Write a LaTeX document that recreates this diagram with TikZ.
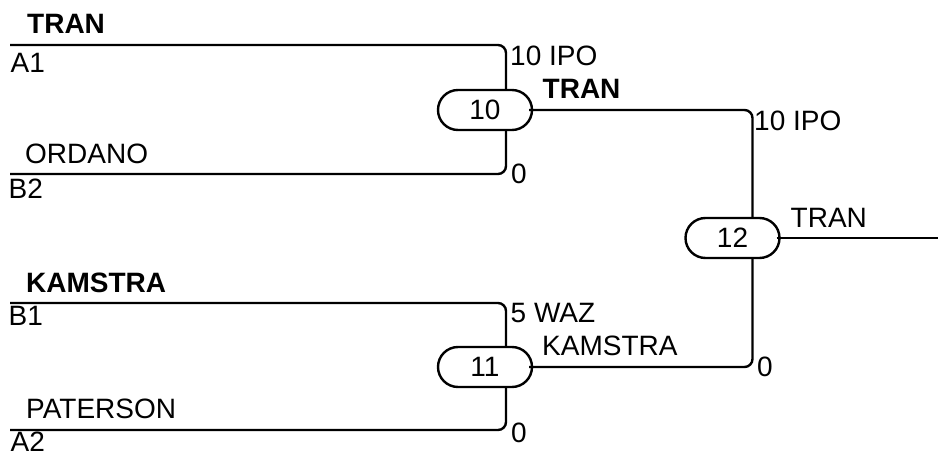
\documentclass[tikz,border=0pt]{standalone}
\usepackage{fontspec}
\setmainfont{Liberation Sans}
\begin{document}
\begin{tikzpicture}[x=1pt,y=-1pt,
		every node/.style={font=\fontsize{28}{32}\selectfont,inner sep=0pt},
		lbl/.style={anchor=base west},
		match/.style={draw,line width=2.4pt,rounded corners=20pt,minimum width=94pt,minimum height=40pt},
		conn/.style={line width=2.4pt,rounded corners=8pt}]
		\useasboundingbox (0,0) rectangle (938,455);
		\node[match] (m10) at (485,110) {10};
		\node[match] (m11) at (485,367) {11};
		\node[match] (m12) at (732.5,238) {12};
		\coordinate (a1) at (10,45);
		\coordinate (b2) at (10,174);
		\coordinate (b1) at (10,303);
		\coordinate (a2) at (10,430);
		\coordinate (win) at (938,238);
		\draw[conn] (a1) -| ([xshift=21pt]m10.north);
		\draw[conn] (b2) -| ([xshift=21pt]m10.south);
		\draw[conn] (b1) -| ([xshift=21pt]m11.north);
		\draw[conn] (a2) -| ([xshift=21pt]m11.south);
		\draw[conn] ([xshift=-4pt]m10.east) -| ([xshift=20pt]m12.north);
		\draw[conn] ([xshift=-4pt]m11.east) -| ([xshift=20pt]m12.south);
		\draw[conn] ([xshift=-4pt]m12.east) -- (win);
		\node[lbl] (ta1) at (27,34) {\bfseries TRAN};
		\node[lbl] (la1) at (10.5,72) {A1};
		\node[lbl] (tb2) at (25,163) {ORDANO};
		\node[lbl] (lb2) at (8.5,198) {B2};
		\node[lbl] (tb1) at (26,292) {\bfseries KAMSTRA};
		\node[lbl] (lb1) at (8.5,325) {B1};
		\node[lbl] (ta2) at (26,418) {PATERSON};
		\node[lbl] (la2) at (10.5,451) {A2};
		\node[lbl] (s10a) at (510,65) {10 IPO};
		\node[lbl] (s10b) at (511,183) {0};
		\node[lbl] (s11a) at (510.5,322) {5 WAZ};
		\node[lbl] (s11b) at (511,442) {0};
		\node[lbl] (w10) at (542.5,98) {\bfseries TRAN};
		\node[lbl] (w11) at (542,355) {KAMSTRA};
		\node[lbl] (s12a) at (754,130) {10 IPO};
		\node[lbl] (s12b) at (757,376) {0};
		\node[lbl] (w12) at (790.5,227) {TRAN};
	\end{tikzpicture}
\end{document}
